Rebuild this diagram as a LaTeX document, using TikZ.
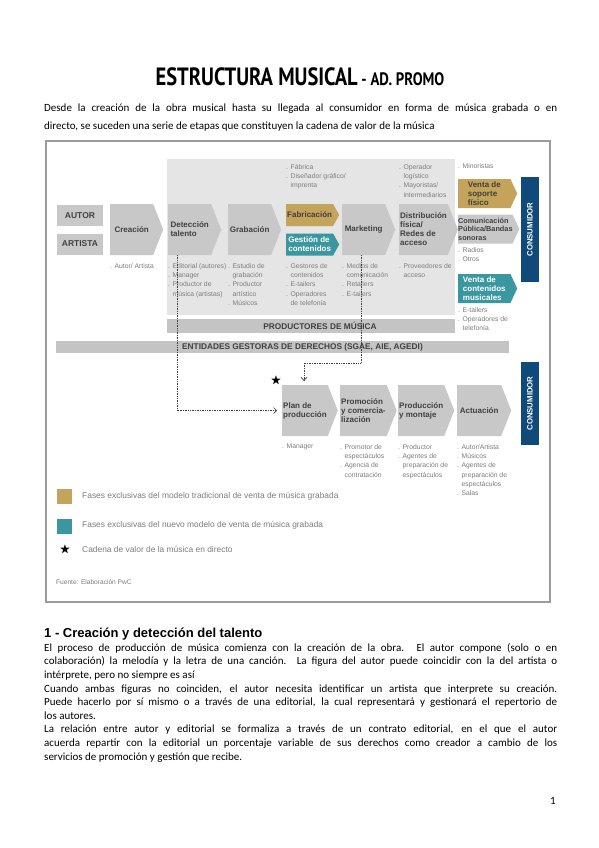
\documentclass[tikz,border=0pt]{standalone}
\usepackage{fontspec}
\usepackage{amssymb}
\setmainfont{Carlito}
\newfontfamily\arialf{Liberation Sans}
\newfontfamily\titlef{PT Sans}
\usetikzlibrary{shapes.symbols,arrows.meta,positioning}
\definecolor{grisfase}{RGB}{200,200,200}
\definecolor{grisarea}{RGB}{229,229,229}
\definecolor{grisbarra}{RGB}{196,196,196}
\definecolor{textofase}{RGB}{64,64,64}
\definecolor{grislabel}{RGB}{125,125,125}
\definecolor{oro}{RGB}{196,164,90}
\definecolor{turquesa}{RGB}{58,151,160}
\definecolor{azulcons}{RGB}{16,74,122}
\definecolor{marco}{RGB}{155,155,155}
\newcommand{\sangria}{\hspace*{4.5pt}}

\begin{document}
\begin{tikzpicture}[x=1pt, y=-1pt,
   fase/.style={signal, signal to=east, signal pointer angle=137, fill=grisfase, text=textofase,
      font=\arialf\bfseries\fontsize{8}{9}\selectfont, align=left, anchor=west,
      minimum width=53, minimum height=51, inner sep=1pt},
   chica/.style={fase, minimum height=22, signal pointer angle=122},
   derecha/.style={fase, minimum width=59, minimum height=29, signal pointer angle=130},
   caja/.style={rectangle, fill=grisfase, text=textofase, minimum width=46, minimum height=21,
      font=\arialf\bfseries\fontsize{8.5}{9}\selectfont, inner sep=0},
   barra/.style={rectangle, fill=grisbarra, inner sep=0},
   textobarra/.style={inner sep=0, text=textofase, font=\arialf\bfseries\fontsize{8.3}{9}\selectfont},
   consumidor/.style={rectangle, fill=azulcons, text=white, rotate=90, minimum height=18, inner sep=0,
      font=\arialf\bfseries\fontsize{7.8}{9}\selectfont},
   etiqueta/.style={anchor=north west, align=left, inner sep=0, text=grislabel,
      font=\arialf\fontsize{6.8}{9.3}\selectfont},
   conexion/.style={densely dotted, draw=textofase, line width=0.7pt,
      -{Straight Barb[length=3pt,width=6pt]}},
   leyenda/.style={anchor=west, inner sep=0, text=grislabel, font=\arialf\fontsize{8.4}{9}\selectfont}]

   \useasboundingbox[fill=white] (0,0) rectangle (599,848);

   \node[anchor=base, inner sep=0] (titulo) at (300,86)
      {\scalebox{0.82}[1]{\titlef\bfseries\fontsize{25}{25}\selectfont ESTRUCTURA MUSICAL\fontsize{18}{18}\selectfont\ - AD. PROMO}};
   \node[anchor=base west, inner sep=0, align=left, font=\fontsize{11}{18}\selectfont] (intro) at (44,130)
      {\makebox[513pt][s]{Desde la creación de la obra musical hasta su llegada al consumidor en forma de música grabada o en}\\
       directo, se suceden una serie de etapas que constituyen la cadena de valor de la música};

   \draw[marco, line width=1.3pt] (46,141) rectangle (550,602);
   \fill[grisarea] (167,159) rectangle (455,315);

   \node[caja] (autor) at (80,215.5) {AUTOR};
   \node[caja] (artista) at (80,244) {ARTISTA};
   \node[fase] (creacion) at (110,229.5) {Creación};
   \node[fase] (deteccion) at (168,229.5) {Detección\\talento};
   \node[fase] (grabacion) at (228,229.5) {Grabación};
   \node[chica, fill=oro, text=textofase] (fabricacion) at (286,215) {Fabricación};
   \node[chica, fill=turquesa, text=white] (gestion) at (286,244.5) {Gestión de\\contenidos};
   \node[fase] (marketing) at (342,229.5) {Marketing};
   \node[fase, minimum width=56] (distribucion) at (399,229.5) {Distribución\\física/\\Redes de\\acceso};
   \node[derecha, fill=oro] (ventasoporte) at (458,193.5) {Venta de\\soporte\\físico};
   \node[derecha, inner sep=0, font=\arialf\bfseries\fontsize{7.3}{8.5}\selectfont] (comunicacion) at (458,229)
      {Comunicación\\Pública/Bandas\\sonoras};
   \node[derecha, fill=turquesa, text=white] (ventacontenidos) at (458,288.5) {Venta de\\contenidos\\musicales};
   \node[consumidor, minimum width=105] (consumidor1) at (530,229.5) {CONSUMIDOR};

   \node[etiqueta] at (286,164) {. Fábrica\\. Diseñador gráfico/\\\sangria imprenta};
   \node[etiqueta] at (399,164) {. Operador\\\sangria logístico\\. Mayoristas/\\\sangria intermediarios};
   \node[etiqueta] at (458,163) {. Minoristas};
   \node[etiqueta] at (110,263) {. Autor/ Artista};
   \node[etiqueta] at (168,263) {. Editorial (autores)\\. Manager\\. Productor de\\\sangria música (artistas)};
   \node[etiqueta] at (228,263) {. Estudio de\\\sangria grabación\\. Productor\\\sangria artístico\\. Músicos};
   \node[etiqueta] at (286,263) {. Gestores de\\\sangria contenidos\\. E-tailers\\. Operadores\\\sangria de telefonía};
   \node[etiqueta] at (342,263) {. Medios de\\\sangria comunicación\\. Retailers\\. E-tailers};
   \node[etiqueta] at (399,263) {. Proveedores de\\\sangria acceso};
   \node[etiqueta] at (458,247) {. Radios\\. Otros};
   \node[etiqueta] at (458,307) {. E-tailers\\. Operadores de\\\sangria telefonía};

   \node[barra, minimum width=288, minimum height=14] (productores) at (311,326) {};
   \node[textobarra] at ([xshift=9pt]productores.center) {PRODUCTORES DE MÚSICA};
   \node[barra, minimum width=453, minimum height=12] (entidades) at (282.5,347) {};
   \node[textobarra] at ([xshift=20pt]entidades.center) {ENTIDADES GESTORAS DE DERECHOS (SGAE, AIE, AGEDI)};

   \node[fase, minimum width=54] (plan) at (282,410.5) {Plan de\\producción};
   \node[fase, minimum width=54] (promocion) at (340,410.5) {Promoción\\y comercia-\\lización};
   \node[fase, minimum width=54] (produccion) at (398,410.5) {Producción\\y montaje};
   \node[fase, minimum width=54] (actuacion) at (457,410.5) {Actuación};
   \node[consumidor, minimum width=83] (consumidor2) at (530,403.5) {CONSUMIDOR};
   \node[inner sep=0, font=\fontsize{11}{11}\selectfont] (estrella) at (276,381) {$\bigstar$};

   \node[etiqueta] at (282,444) {. Manager};
   \node[etiqueta] at (340,444) {. Promotor de\\\sangria espectáculos\\. Agencia de\\\sangria contratación};
   \node[etiqueta] at (398,444) {. Productor\\. Agentes de\\\sangria preparación de\\\sangria espectáculos};
   \node[etiqueta] at (457,444) {. Autor/Artista\\. Músicos\\. Agentes de\\\sangria preparación de\\\sangria espectáculos\\. Salas};

   \coordinate (salida1) at (177,255);
   \coordinate (salida2) at (361,255);
   \coordinate (codo) at (304,363);
   \draw[conexion, shorten >=5pt] (salida1) |- (plan.west);
   \draw[conexion, shorten >=4pt] (salida2) |- (codo) -- (codo |- plan.north);

   \node[fill=oro, minimum size=15, inner sep=0] (leyoro) at (64.5,496.5) {};
   \node[fill=turquesa, minimum size=15, inner sep=0] (leyturquesa) at (64.5,526) {};
   \node[inner sep=0, font=\fontsize{11}{11}\selectfont] (leyestrella) at (65,550) {$\bigstar$};
   \node[leyenda] at (82,496) {Fases exclusivas del modelo tradicional de venta de música grabada};
   \node[leyenda] at (82,525) {Fases exclusivas del nuevo modelo de venta de música grabada};
   \node[leyenda] at (82,549) {Cadena de valor de la música en directo};
   \node[leyenda, font=\arialf\fontsize{6.6}{8}\selectfont] at (56,582) {Fuente: Elaboración PwC};

   \node[anchor=base west, inner sep=0, font=\arialf\bfseries\fontsize{13}{13}\selectfont] (apartado) at (44,637)
      {1 - Creación y detección del talento};
   \node[anchor=base west, inner sep=0, align=left, font=\fontsize{11}{13.6}\selectfont] (cuerpo) at (44,760)
      {\makebox[513pt][s]{El proceso de producción de música comienza con la creación de la obra. El autor compone (solo o en}\\
       \makebox[513pt][s]{colaboración) la melodía y la letra de una canción. La figura del autor puede coincidir con la del artista o}\\
       intérprete, pero no siempre es así\\
       \makebox[513pt][s]{Cuando ambas figuras no coinciden, el autor necesita identificar un artista que interprete su creación.}\\
       \makebox[513pt][s]{Puede hacerlo por sí mismo o a través de una editorial, la cual representará y gestionará el repertorio de}\\
       los autores.\\
       \makebox[513pt][s]{La relación entre autor y editorial se formaliza a través de un contrato editorial, en el que el autor}\\
       \makebox[513pt][s]{acuerda repartir con la editorial un porcentaje variable de sus derechos como creador a cambio de los}\\
       servicios de promoción y gestión que recibe.};
   \node[anchor=base, inner sep=0, font=\fontsize{11}{11}\selectfont] (pagina) at (553,804) {1};
\end{tikzpicture}
\end{document}
